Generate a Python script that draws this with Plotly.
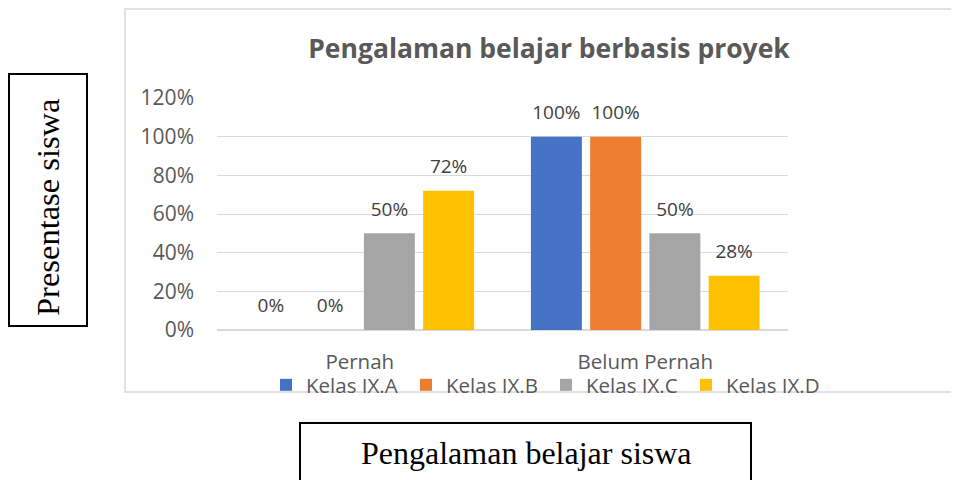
import plotly.graph_objects as go

categories = ["Pernah", "Belum Pernah"]
series_names = ["Kelas IX.A", "Kelas IX.B", "Kelas IX.C", "Kelas IX.D"]
kelas_a = [0.0, 1.00]
kelas_b = [0.0, 1.00]
kelas_c = [0.50, 0.50]
kelas_d = [0.72, 0.28]
series_values = [kelas_a, kelas_b, kelas_c, kelas_d]
colors = ["#4472C4", "#ED7D31", "#A5A5A5", "#FFC000"]
tick_vals = [0, 0.2, 0.4, 0.6, 0.8, 1.0, 1.2]
tick_text = ["0%", "20%", "40%", "60%", "80%", "100%", "120%"]

title_text = "Pengalaman belajar berbasis proyek"
ylabel_text = "Presentase siswa"
xlabel_text = "Pengalaman belajar siswa"

LABEL_PAD = 0.045  # visual gap between bar top and its data label

# page has an 8px body margin; figure is sized so it fits the 959x480 window
OFF = 8
FW, FH = 959 - OFF, 480 - OFF

fig = go.Figure()
for i, (name, vals, col) in enumerate(zip(series_names, series_values, colors)):
    fig.add_trace(go.Bar(
        x=categories, y=vals, name=name, offsetgroup=str(i),
        marker=dict(color=col, line=dict(width=0)),
    ))
for i, (name, vals) in enumerate(zip(series_names, series_values)):
    fig.add_trace(go.Bar(
        x=categories, y=[LABEL_PAD] * len(vals), base=vals, offsetgroup=str(i),
        marker=dict(color="rgba(0,0,0,0)", line=dict(width=0, color="rgba(0,0,0,0)")),
        showlegend=False, hoverinfo="skip",
        text=[f"{round(v*100)}%" for v in vals], textposition="outside",
        textfont=dict(family="Open Sans", size=19, color="#404040"),
        cliponaxis=False,
    ))

# plot-area bounds in page pixels
W0, W1 = 217, 788
Y0, Y1 = 330, 98
pw, ph = W1 - W0, Y0 - Y1
def px(x):
    return (x - W0) / pw
def py(y):
    return (Y0 - y) / ph

shapes = [
    dict(type="rect", xref="paper", yref="paper", x0=px(125), x1=px(1000), y0=py(392), y1=py(OFF + 1),
         line=dict(color="#D9D9D9", width=1.5), layer="below"),
    dict(type="rect", xref="paper", yref="paper", x0=px(9), x1=px(87), y0=py(326), y1=py(74),
         line=dict(color="#000000", width=2)),
    dict(type="rect", xref="paper", yref="paper", x0=px(300), x1=px(751), y0=py(520), y1=py(423),
         line=dict(color="#000000", width=2)),
]
annotations = [
    dict(text=ylabel_text, xref="paper", yref="paper", x=px(48), y=py(207), textangle=-90,
         showarrow=False, font=dict(family="Liberation Serif", size=32.5, color="#000000"),
         xanchor="center", yanchor="middle"),
    dict(text=xlabel_text, xref="paper", yref="paper", x=px(526), y=py(453),
         showarrow=False, font=dict(family="Liberation Serif", size=32, color="#000000"),
         xanchor="center", yanchor="middle"),
]

fig.update_layout(
    width=FW, height=FH,
    margin=dict(l=W0 - OFF, r=FW - (W1 - OFF), t=Y1 - OFF, b=FH - (Y0 - OFF), autoexpand=False),
    paper_bgcolor="white", plot_bgcolor="white",
    barmode="group", bargap=0.17, bargroupgap=0.14,
    title=dict(text=f"<b>{title_text}</b>", xref="paper", x=px(549), y=1 - (49 - OFF) / FH,
               xanchor="center", yanchor="middle",
               font=dict(family="Open Sans", size=26.5, color="#595959")),
    xaxis=dict(showgrid=False, showline=False, ticks="", ticklabelstandoff=17,
               tickfont=dict(family="Open Sans", size=20.5, color="#595959")),
    yaxis=dict(range=[0, 1.2], tickvals=tick_vals, ticktext=tick_text,
               showgrid=True, gridcolor="#D9D9D9", gridwidth=1.3,
               zeroline=True, zerolinecolor="#D9D9D9", zerolinewidth=1.5,
               showline=False, ticks="", ticklabelstandoff=22,
               tickfont=dict(family="Open Sans", size=21, color="#595959")),
    legend=dict(orientation="h", xref="container", yref="container",
                x=(266 - OFF) / FW, xanchor="left", y=1 - (385 - OFF) / FH, yanchor="middle",
                font=dict(family="Open Sans", size=20.5, color="#595959"),
                entrywidth=95, entrywidthmode="pixels", traceorder="normal",
                bgcolor="rgba(0,0,0,0)"),
    shapes=shapes, annotations=annotations,
    showlegend=True,
)

fig.write_html("out.html")
